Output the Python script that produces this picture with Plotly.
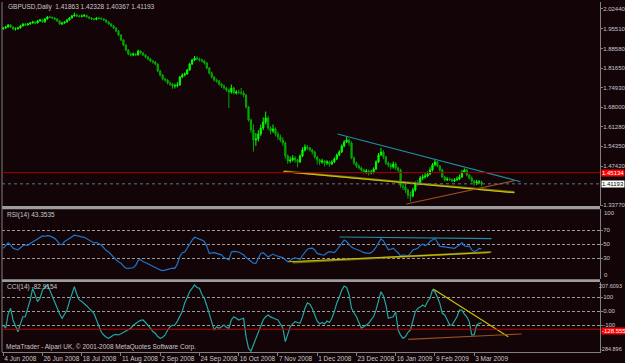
import plotly.graph_objects as go

# ---------------- data ----------------
date_ticks = ["4 Jun 2008", "26 Jun 2008", "18 Jul 2008", "11 Aug 2008", "2 Sep 2008",
              "24 Sep 2008", "16 Oct 2008", "7 Nov 2008", "1 Dec 2008", "23 Dec 2008",
              "16 Jan 2009", "9 Feb 2009", "3 Mar 2009"]
date_tick_bars = [0, 16, 32, 48, 64, 80, 96, 112, 128, 144, 160, 176, 192]

opens = [1.9550,1.9578,1.9613,1.9684,1.9613,1.9543,1.9551,1.9578,1.9649,1.9719,
1.9684,1.9719,1.9754,1.9789,1.9754,1.9824,1.9859,1.9789,1.9894,1.9964,
1.9952,1.9929,1.9894,1.9824,1.9719,1.9754,1.9789,1.9859,1.9929,1.9999,
2.0034,1.9999,1.9985,1.9999,2.0020,1.9964,1.9929,1.9894,1.9880,1.9929,
1.9915,1.9894,1.9859,1.9789,1.9719,1.9649,1.9578,1.9473,1.9333,1.9158,
1.8983,1.8808,1.8668,1.8633,1.8668,1.8633,1.8773,1.8703,1.8633,1.8563,
1.8492,1.8422,1.8387,1.8317,1.8072,1.7932,1.7792,1.7757,1.7652,1.7617,
1.7547,1.7560,1.7582,1.7862,1.7932,1.7967,1.8107,1.8317,1.8457,1.8527,
1.8492,1.8457,1.8422,1.8352,1.8177,1.8002,1.7862,1.7757,1.7722,1.7617,
1.7547,1.7477,1.7407,1.7337,1.7477,1.7301,1.7337,1.7320,1.7301,1.7231,
1.6811,1.6356,1.6005,1.5655,1.5690,1.5865,1.6075,1.6286,1.6426,1.6075,
1.5970,1.6040,1.5865,1.5760,1.5655,1.5550,1.5095,1.4920,1.4955,1.5025,
1.4955,1.4885,1.5095,1.5305,1.5410,1.5375,1.5305,1.5235,1.5060,1.4955,
1.4885,1.4920,1.4850,1.4885,1.4815,1.4885,1.4990,1.5130,1.5235,1.5445,
1.5585,1.5655,1.5550,1.5025,1.4850,1.4744,1.4674,1.4604,1.4534,1.4569,
1.4499,1.4534,1.4639,1.4885,1.5130,1.5235,1.5060,1.4850,1.4780,1.4709,
1.4815,1.4674,1.4604,1.4044,1.4009,1.3904,1.3729,1.3694,1.3904,1.4149,
1.4135,1.4324,1.4359,1.4394,1.4464,1.4604,1.4780,1.4885,1.4744,1.4604,
1.4359,1.4254,1.4289,1.4275,1.4219,1.4254,1.4289,1.4359,1.4534,1.4604,
1.4429,1.4324,1.4219,1.4149,1.4184,1.41863]

highs = [1.9620,1.9655,1.9720,1.9710,1.9640,1.9600,1.9615,1.9690,1.9750,1.9760,
1.9755,1.9790,1.9830,1.9820,1.9860,1.9900,1.9890,1.9930,2.0000,2.0010,
1.9985,1.9960,1.9920,1.9850,1.9790,1.9820,1.9890,1.9965,2.0040,2.0115,
2.0080,2.0040,2.0050,2.0065,2.0045,1.9990,1.9960,1.9930,1.9960,1.9970,
1.9950,1.9920,1.9880,1.9820,1.9750,1.9680,1.9600,1.9500,1.9360,1.9190,
1.9010,1.8840,1.8720,1.8720,1.8700,1.8820,1.8800,1.8740,1.8660,1.8600,
1.8530,1.8460,1.8420,1.8340,1.8110,1.7960,1.7830,1.7790,1.7700,1.7650,
1.7630,1.7680,1.7900,1.7990,1.8020,1.8150,1.8360,1.8500,1.8600,1.8590,
1.8540,1.8510,1.8470,1.8390,1.8210,1.8050,1.7900,1.7810,1.7760,1.7660,
1.7600,1.7520,1.7450,1.7600,1.7520,1.7400,1.7420,1.7480,1.7380,1.7260,
1.6850,1.6400,1.6200,1.5900,1.6000,1.6200,1.6450,1.6650,1.6500,1.6150,
1.6200,1.6100,1.5950,1.5850,1.5750,1.5600,1.5150,1.5080,1.5120,1.5090,
1.5000,1.5150,1.5400,1.5500,1.5480,1.5420,1.5350,1.5280,1.5100,1.5000,
1.5000,1.4960,1.4950,1.4930,1.4950,1.5050,1.5180,1.5300,1.5500,1.5650,
1.5770,1.5700,1.5600,1.5080,1.4900,1.4800,1.4720,1.4650,1.4640,1.4620,
1.4600,1.4700,1.4950,1.5200,1.5380,1.5300,1.5100,1.4900,1.4850,1.4900,
1.4880,1.4720,1.4650,1.4200,1.4120,1.3950,1.3850,1.3980,1.4200,1.4250,
1.4400,1.4450,1.4500,1.4550,1.4700,1.4850,1.4975,1.4920,1.4780,1.4650,
1.4400,1.4350,1.4340,1.4310,1.4320,1.4380,1.4450,1.4600,1.4660,1.4640,
1.4470,1.4380,1.4260,1.4260,1.4250,1.42328]

lows = [1.9510,1.9545,1.9590,1.9580,1.9500,1.9490,1.9520,1.9560,1.9630,1.9650,
1.9660,1.9690,1.9730,1.9720,1.9735,1.9800,1.9760,1.9770,1.9870,1.9920,
1.9890,1.9860,1.9790,1.9690,1.9680,1.9730,1.9770,1.9840,1.9910,1.9980,
1.9960,1.9940,1.9950,1.9970,1.9930,1.9890,1.9860,1.9840,1.9850,1.9880,
1.9860,1.9820,1.9750,1.9690,1.9610,1.9540,1.9430,1.9290,1.9120,1.8940,
1.8760,1.8620,1.8580,1.8590,1.8590,1.8610,1.8660,1.8600,1.8520,1.8450,
1.8380,1.8330,1.8270,1.8030,1.7880,1.7740,1.7700,1.7600,1.7550,1.7450,
1.7460,1.7500,1.7560,1.7820,1.7880,1.7940,1.8080,1.8280,1.8420,1.8450,
1.8400,1.8370,1.8300,1.8130,1.7950,1.7810,1.7700,1.7660,1.7560,1.7480,
1.7420,1.7340,1.6780,1.7280,1.7250,1.7250,1.7260,1.7240,1.7150,1.6760,
1.6300,1.5900,1.5250,1.5450,1.5600,1.5800,1.6000,1.6200,1.6000,1.5850,
1.5900,1.5780,1.5650,1.5580,1.5450,1.5000,1.4820,1.4850,1.4900,1.4860,
1.4700,1.4850,1.5050,1.5250,1.5300,1.5250,1.5150,1.5000,1.4800,1.4780,
1.4820,1.4730,1.4780,1.4720,1.4780,1.4850,1.4950,1.5080,1.5200,1.5400,
1.5550,1.5450,1.4980,1.4780,1.4680,1.4620,1.4550,1.4480,1.4470,1.4410,
1.4450,1.4480,1.4600,1.4850,1.5100,1.4980,1.4780,1.4700,1.4620,1.4650,
1.4600,1.4500,1.3980,1.3900,1.3800,1.3600,1.3503,1.3650,1.3850,1.4050,
1.4100,1.4250,1.4300,1.4350,1.4420,1.4550,1.4750,1.4700,1.4550,1.4320,
1.4200,1.4220,1.4220,1.4170,1.4180,1.4230,1.4250,1.4330,1.4500,1.4380,
1.4270,1.4160,1.4050,1.4080,1.4110,1.40367]

closes = [1.9578,1.9613,1.9684,1.9613,1.9543,1.9551,1.9578,1.9649,1.9719,1.9684,
1.9719,1.9754,1.9789,1.9754,1.9824,1.9859,1.9789,1.9894,1.9964,1.9952,
1.9929,1.9894,1.9824,1.9719,1.9754,1.9789,1.9859,1.9929,1.9999,2.0034,
1.9999,1.9985,1.9999,2.0020,1.9964,1.9929,1.9894,1.9880,1.9929,1.9915,
1.9894,1.9859,1.9789,1.9719,1.9649,1.9578,1.9473,1.9333,1.9158,1.8983,
1.8808,1.8668,1.8633,1.8668,1.8633,1.8773,1.8703,1.8633,1.8563,1.8492,
1.8422,1.8387,1.8317,1.8072,1.7932,1.7792,1.7757,1.7652,1.7617,1.7547,
1.7560,1.7582,1.7862,1.7932,1.7967,1.8107,1.8317,1.8457,1.8527,1.8492,
1.8457,1.8422,1.8352,1.8177,1.8002,1.7862,1.7757,1.7722,1.7617,1.7547,
1.7477,1.7407,1.7337,1.7477,1.7301,1.7337,1.7320,1.7301,1.7231,1.6811,
1.6356,1.6005,1.5655,1.5690,1.5865,1.6075,1.6286,1.6426,1.6075,1.5970,
1.6040,1.5865,1.5760,1.5655,1.5550,1.5095,1.4920,1.4955,1.5025,1.4955,
1.4885,1.5095,1.5305,1.5410,1.5375,1.5305,1.5235,1.5060,1.4955,1.4885,
1.4920,1.4850,1.4885,1.4815,1.4885,1.4990,1.5130,1.5235,1.5445,1.5585,
1.5655,1.5550,1.5025,1.4850,1.4744,1.4674,1.4604,1.4534,1.4569,1.4499,
1.4534,1.4639,1.4885,1.5130,1.5235,1.5060,1.4850,1.4780,1.4709,1.4815,
1.4674,1.4604,1.4044,1.4009,1.3904,1.3729,1.3694,1.3904,1.4149,1.4135,
1.4324,1.4359,1.4394,1.4464,1.4604,1.4780,1.4885,1.4744,1.4604,1.4359,
1.4254,1.4289,1.4275,1.4219,1.4254,1.4289,1.4359,1.4534,1.4604,1.4429,
1.4324,1.4219,1.4149,1.4184,1.41863,1.41193]

rsi = [44.3,48,52,49,44.5,43,42,45,48,49,
48.5,51,53,55,57,60,62,61.5,62.5,62,
60,58.5,55,50,49.5,54,56,58,61,63,
62.5,61,60.5,60,58,56,54,52,52.5,51,
49,45,41,39,35,31,28,25,23,19,
16,15.5,16,16.5,20,27,28.5,25,24,22,
20.5,19,17,15,13.5,12.3,13,14,15.7,16,
15.7,22,33,38,39,45,51,56,60,59,
57,56,54,47,37,37.5,38,37,36,35,
31,29,27.6,39,40,39.5,39,37,35,31,
28,25,23,22.8,30,37,38,35,32,34,
36,34,33,32,31,28,25,27,29.5,30.5,
29,28.5,34,39,43,44.3,44.5,42,37,36,
34.7,35,38,39.5,38.5,38,42,46.6,52,56,
54,50,46,44,43,41.5,40,38,37.5,37,
38,41,46,51,57.6,55,48,42,43,44.3,
41,38,33.3,35,34,33,37,42,43,44.3,
48,50.4,48,50,54,57,58.6,53,47,46.6,
46,45.7,45,44.5,44.3,47,49,52.3,48,46.6,
47.6,42,39.5,41,44,43.3535]

cci = [-98,-121,-20,21,-62,-98,-146,-90,-39,-39,
20,80,164,110,69,93,152,170,188,150,
104,60,21,-20,-50,-20,9,69,130,176,
120,81,70,57,40,21,5,-14,-60,-110,
-150,-169,-185,-193,-180,-169,-165,-169,-160,-150,
-140,-130,-121,-100,-85,-74,-65,-62,-80,-98,
-120,-145,-157,-180,-193,-185,-169,-135,-110,-100,
-98,-70,-39,0,60,104,140,164,188,170,
164,120,93,40,-14,-80,-134,-110,-121,-110,
-98,-115,-121,-62,-39,-50,-62,-55,-50,-181,
-264,-284.9,-240,-200,-157,-110,-60,-39,-26,-40,
-50,-55,-62,-90,-121,-217,-170,-110,-90,-74,
-80,-86,-40,20,60,50,20,-30,-70,-90,
-80,-90,-70,-80,-50,0,60,100,150,180,
170,120,21,-10,-39,-80,-121,-110,-95,-86,
-60,-39,10,81,140,110,45,-50,-45,-39,
-3,-134,-170,-193,-181,-150,-134,-62,-3,21,
30,45,33,70,93,152,140,100,57,-14,
-26,-60,-98,-98,-70,-39,9,9,-20,-39,
-74,-169,-169,-98,-86,-82.9154]

bars = list(range(len(closes)))

price_ticks = [2.02440, 1.95510, 1.88580, 1.81650, 1.74930, 1.68000, 1.61280, 1.54350, 1.47420, 1.33770]
red_level = 1.45134
bid_level = 1.41193
cci_red_level = -128.555

# trend lines (bar index, value)
main_teal_x, main_teal_y = [136.3, 210.9], [1.5865, 1.4194]
main_yellow_x, main_yellow_y = [114.3, 208.4], [1.4545, 1.3809]
main_olive_x, main_olive_y = [114.3, 208.4], [1.4560, 1.3830]
main_brown_x, main_brown_y = [164.4, 208.4], [1.3413, 1.4229]
rsi_teal_x, rsi_teal_y = [137.1, 199.1], [60.4, 58.0]
rsi_yellow_x, rsi_yellow_y = [116.3, 198.2], [25.1, 38.3]
rsi_olive_x, rsi_olive_y = [118.0, 199.0], [24.0, 39.0]
cci_yellow_x, cci_yellow_y = [175.3, 205.9], [159, -181]
cci_brown_x, cci_brown_y = [165.1, 211.3], [-200, -162]

# ---------------- figure ----------------
BG = "#130408"
GRAY = "#808080"
TXT = "#c8c8c8"
FONT = "Liberation Sans, Arial, sans-serif"

fig = go.Figure()
fig.add_trace(go.Candlestick(
    x=bars, open=opens, high=highs, low=lows, close=closes,
    xaxis="x", yaxis="y", whiskerwidth=0,
    increasing=dict(line=dict(color="#00ff00", width=1), fillcolor="#00ff00"),
    decreasing=dict(line=dict(color="#00a800", width=1), fillcolor="#00a800"),
    showlegend=False, hoverinfo="skip"))

def seg(x, y, color, ax, width=1.2):
    fig.add_trace(go.Scatter(x=x, y=y, mode="lines", yaxis=ax,
                             line=dict(color=color, width=width),
                             showlegend=False, hoverinfo="skip"))

seg(main_olive_x, main_olive_y, "#6f6a10", "y", 2)
seg(main_yellow_x, main_yellow_y, "#c8c000", "y")
seg(main_brown_x, main_brown_y, "#9a5020", "y")
seg(main_teal_x, main_teal_y, "#1f8f9f", "y")

fig.add_trace(go.Scatter(x=bars, y=rsi, mode="lines", yaxis="y2",
                         line=dict(color="#1e74c8", width=1.2),
                         showlegend=False, hoverinfo="skip"))
seg(rsi_olive_x, rsi_olive_y, "#6f6a10", "y2", 2)
seg(rsi_yellow_x, rsi_yellow_y, "#c8c000", "y2")
seg(rsi_teal_x, rsi_teal_y, "#1f8f9f", "y2")

fig.add_trace(go.Scatter(x=bars, y=cci, mode="lines", yaxis="y3",
                         line=dict(color="#20a8a0", width=1.2),
                         showlegend=False, hoverinfo="skip"))
seg(cci_yellow_x, cci_yellow_y, "#c8c000", "y3")
seg(cci_brown_x, cci_brown_y, "#9a5020", "y3")

W, H = 625, 363
ML, MR, MT, MB = 2, 25, 2, 11
PH = H - MT - MB
PW = W - ML - MR

def py(pix):  # absolute pixel row -> paper y
    return (H - MB - pix) / PH

RIGHT_EDGE = 1 + (MR - 1) / PW  # paper x of the window's right edge (minus 1px)

axis_common = dict(zeroline=False, showline=True, linecolor=GRAY, automargin=False,
                   linewidth=1, ticks="outside", ticklen=2, tickcolor=GRAY,
                   side="right", anchor="x", ticklabelstandoff=-1,
                   tickfont=dict(size=6, color=TXT, family=FONT))
DASH = "3px,2px"

fig.update_layout(
    template="none",
    width=W, height=H,
    margin=dict(l=ML, r=MR, t=MT, b=MB, pad=0, autoexpand=False),
    paper_bgcolor=BG, plot_bgcolor=BG,
    font=dict(family=FONT, size=7, color=TXT),
    xaxis=dict(domain=[0, 1], range=[-0.5, 243.3], anchor="y3", automargin=False,
               rangeslider=dict(visible=False), showgrid=False, zeroline=False,
               showline=True, linecolor=GRAY, ticks="outside", ticklen=3,
               tickcolor=GRAY, tickvals=date_tick_bars, ticktext=date_ticks,
               ticklabelposition="outside right", tickangle=0,
               tickfont=dict(size=6.5, color=TXT, family=FONT)),
    yaxis=dict(domain=[py(206), 1.0], range=[1.3343, 2.0489], showgrid=False,
               tickvals=price_ticks, ticktext=[f"{v:.5f}" for v in price_ticks],
               **axis_common),
    yaxis2=dict(domain=[py(279.3), py(209.3)], range=[0, 100],
                tickvals=[70, 50, 30], ticktext=["70", "50", "30"],
                showgrid=True, gridcolor="#9a9a9a", griddash=DASH, gridwidth=1,
                **axis_common),
    yaxis3=dict(domain=[0, py(282)], range=[-290.7, 209.3],
                tickvals=[100, 0, -100], ticktext=["100", "0.00", "-100"],
                showgrid=True, gridcolor="#9a9a9a", griddash=DASH, gridwidth=1,
                **axis_common),
)

shapes = [
    # separators
    dict(type="rect", xref="paper", yref="paper", x0=0, x1=1, y0=py(209.3), y1=py(206),
         fillcolor="#9c9c9c", line=dict(width=0), layer="above"),
    dict(type="rect", xref="paper", yref="paper", x0=0, x1=1, y0=py(282), y1=py(279.3),
         fillcolor="#9c9c9c", line=dict(width=0), layer="above"),
    # left border
    dict(type="line", xref="paper", yref="paper", x0=0, x1=0, y0=0, y1=1,
         line=dict(color=GRAY, width=1)),
    # price level lines
    dict(type="line", xref="paper", yref="y", x0=0, x1=1, y0=red_level, y1=red_level,
         line=dict(color="#a00000", width=1)),
    dict(type="line", xref="paper", yref="y", x0=0, x1=1, y0=bid_level, y1=bid_level,
         line=dict(color="#5a7886", width=1, dash="dot")),
    dict(type="line", xref="paper", yref="y3", x0=0, x1=1, y0=cci_red_level, y1=cci_red_level,
         line=dict(color="#c00000", width=1)),
]
fig.update_layout(shapes=shapes)

ann = []
def label(text, x, y, xanchor="left", yanchor="middle", size=6.5, yref="paper", **kw):
    ann.append(dict(text=text, x=x, y=y, xref="paper", yref=yref, xanchor=xanchor,
                    yanchor=yanchor, showarrow=False,
                    font=dict(size=size, color=kw.pop("color", TXT), family=FONT), **kw))

label("GBPUSD,Daily  1.41863 1.42328 1.40367 1.41193", 0.006, py(7.5))
label("RSI(14) 43.3535", 0.005, py(214.5))
label("CCI(14) -82.9154", 0.005, py(287))
label("MetaTrader - Alpari UK, © 2001-2008 MetaQuotes Software Corp.", 0.003, py(346.5))
label("100", 1.0, py(212.5), size=6, xshift=2)
label("0", 1.0, py(275), size=6, xshift=2)
label("207.6093", RIGHT_EDGE, py(286), size=5.5, xanchor="right")
label("-284.896", RIGHT_EDGE, py(348.5), size=5.5, xanchor="right")
label(f"{red_level:.5f}", 1.0, red_level, yref="y", size=6, xshift=1,
      bgcolor="#ff0000", color="#ffffff", borderpad=0)
label(f"{bid_level:.5f}", 1.0, bid_level, yref="y", size=6, xshift=1,
      bgcolor="#ffffff", color="#000000", borderpad=0)
label(f"{cci_red_level:.3f}", 1.0, cci_red_level, yref="y3", size=6, xshift=1,
      yshift=-2, bgcolor="#ff0000", color="#ffffff", borderpad=0)
fig.update_layout(annotations=ann)

fig.write_html("out.html")
